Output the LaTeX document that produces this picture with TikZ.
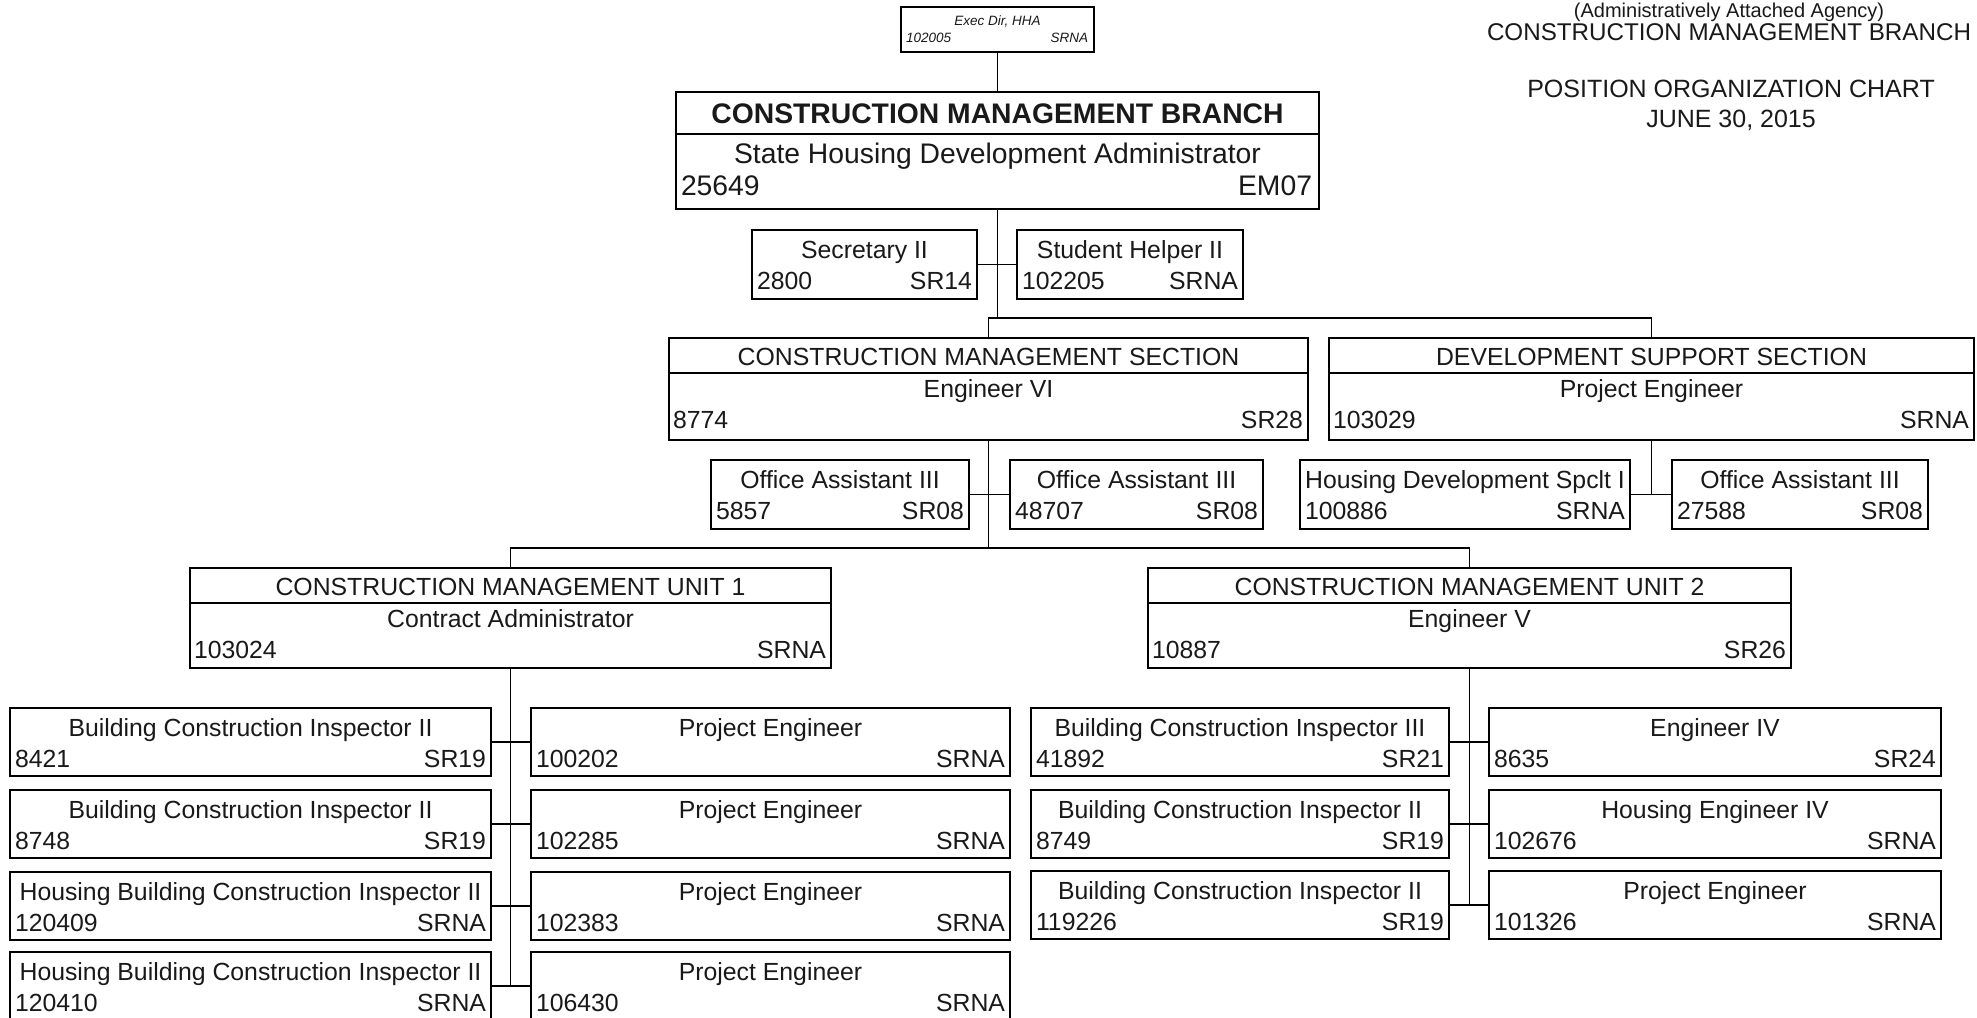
\documentclass[tikz,border=0pt]{standalone}
\usepackage{fontspec}
\setmainfont{Liberation Sans}
\usetikzlibrary{calc}
\tikzset{
  boxframe/.style={draw=black, line width=2.2pt, inner sep=0pt, outer sep=0pt, anchor=north west},
  sepline/.style={draw=black, line width=2.2pt},
  txt/.style={inner sep=0pt, outer sep=0pt, text=black!90, font=\fontsize{24.8}{28}\selectfont},
  bigtxt/.style={inner sep=0pt, outer sep=0pt, text=black!90, font=\fontsize{28.3}{32}\selectfont},
  smalltxt/.style={inner sep=0pt, outer sep=0pt, text=black!90, font=\fontsize{13.5}{15}\selectfont\itshape},
  headtxt/.style={inner sep=0pt, outer sep=0pt, text=black!90, font=\fontsize{25}{29}\selectfont},
  conn/.style={draw=black, line width=1.8pt},
}
% small position box: name, x1, y1, x2, y2, title, number, grade
\newcommand{\posbox}[8]{%
  \node[boxframe, minimum width={(#4-#2)*1pt}, minimum height={(#5-#3)*1pt}] (#1) at (#2,#3) {};
  \node[txt, anchor=base] (#1-t) at ($(#1.north)+(0,28)$) {#6};
  \node[txt, anchor=base west] (#1-n) at ($(#1.north west)+(5,59)$) {#7};
  \node[txt, anchor=base east] (#1-g) at ($(#1.north east)+(-5,59)$) {#8};
}
% section / unit box: name, x1, y1, x2, y2, heading, title, number, grade
\newcommand{\secbox}[9]{%
  \node[boxframe, minimum width={(#4-#2)*1pt}, minimum height={(#5-#3)*1pt}] (#1) at (#2,#3) {};
  \draw[sepline] ($(#1.north west)+(0,35)$) -- ($(#1.north east)+(0,35)$);
  \node[txt, anchor=base] (#1-h) at ($(#1.north)+(0,27)$) {#6};
  \node[txt, anchor=base] (#1-t) at ($(#1.north)+(0,59)$) {#7};
  \node[txt, anchor=base west] (#1-n) at ($(#1.north west)+(4,90)$) {#8};
  \node[txt, anchor=base east] (#1-g) at ($(#1.north east)+(-5,90)$) {#9};
}
\begin{document}
\begin{tikzpicture}[x=1pt,y=-1pt]
\useasboundingbox[fill=white] (0,0) rectangle (1977,1017);

% heading, top right
\node[inner sep=0pt, text=black!90, font=\fontsize{20}{24}\selectfont, anchor=base] (hd0) at (1729,17) {(Administratively Attached Agency)};
\node[headtxt, font=\fontsize{24.2}{28}\selectfont, anchor=base] (hd1) at (1729,40) {CONSTRUCTION MANAGEMENT BRANCH};
\node[headtxt, anchor=base] (hd2) at (1731,97) {POSITION ORGANIZATION CHART};
\node[headtxt, anchor=base] (hd3) at (1731,127) {JUNE 30, 2015};

% executive director
\node[boxframe, minimum width=193pt, minimum height=45pt] (exec) at (901,7) {};
\node[smalltxt, anchor=base] (exec-t) at ($(exec.north)+(0,18)$) {Exec Dir, HHA};
\node[smalltxt, anchor=base west] (exec-n) at ($(exec.north west)+(5,35)$) {102005};
\node[smalltxt, anchor=base east] (exec-g) at ($(exec.north east)+(-6,35)$) {SRNA};

% branch
\node[boxframe, minimum width=643pt, minimum height=117pt] (branch) at (676,92) {};
\draw[sepline] ($(branch.north west)+(0,42)$) -- ($(branch.north east)+(0,42)$);
\node[bigtxt, font=\fontsize{28.3}{32}\selectfont\bfseries, anchor=base] (branch-h) at ($(branch.north)+(0,31)$) {CONSTRUCTION MANAGEMENT BRANCH};
\node[bigtxt, anchor=base] (branch-t) at ($(branch.north)+(0,71)$) {State Housing Development Administrator};
\node[bigtxt, anchor=base west] (branch-n) at ($(branch.north west)+(5,103)$) {25649};
\node[bigtxt, anchor=base east] (branch-g) at ($(branch.north east)+(-7,103)$) {EM07};

% staff of branch
\posbox{sec}{752}{230}{977}{299}{Secretary II}{2800}{SR14}
\posbox{stu}{1017}{230}{1243}{299}{Student Helper II}{102205}{SRNA}

% sections
\secbox{cms}{669}{338}{1308}{440}{CONSTRUCTION MANAGEMENT SECTION}{Engineer VI}{8774}{SR28}
\secbox{dss}{1329}{338}{1974}{440}{DEVELOPMENT SUPPORT SECTION}{Project Engineer}{103029}{SRNA}

\posbox{oa1}{711}{460}{969}{529}{Office Assistant III}{5857}{SR08}
\posbox{oa2}{1010}{460}{1263}{529}{Office Assistant III}{48707}{SR08}
\posbox{hds}{1300}{460}{1630}{529}{Housing Development Spclt I}{100886}{SRNA}
\posbox{oa3}{1672}{460}{1928}{529}{Office Assistant III}{27588}{SR08}

% units
\secbox{u1}{190}{568}{831}{668}{CONSTRUCTION MANAGEMENT UNIT 1}{Contract Administrator}{103024}{SRNA}
\secbox{u2}{1148}{568}{1791}{668}{CONSTRUCTION MANAGEMENT UNIT 2}{Engineer V}{10887}{SR26}

% unit 1 staff
\posbox{a1}{10}{708}{491}{776}{Building Construction Inspector II}{8421}{SR19}
\posbox{a2}{10}{790}{491}{858}{Building Construction Inspector II}{8748}{SR19}
\posbox{a3}{10}{872}{491}{940}{Housing Building Construction Inspector II}{120409}{SRNA}
\posbox{a4}{10}{952}{491}{1020}{Housing Building Construction Inspector II}{120410}{SRNA}
\posbox{b1}{531}{708}{1010}{776}{Project Engineer}{100202}{SRNA}
\posbox{b2}{531}{790}{1010}{858}{Project Engineer}{102285}{SRNA}
\posbox{b3}{531}{872}{1010}{940}{Project Engineer}{102383}{SRNA}
\posbox{b4}{531}{952}{1010}{1020}{Project Engineer}{106430}{SRNA}

% unit 2 staff
\posbox{c1}{1031}{708}{1449}{776}{Building Construction Inspector III}{41892}{SR21}
\posbox{c2}{1031}{790}{1449}{858}{Building Construction Inspector II}{8749}{SR19}
\posbox{c3}{1031}{871}{1449}{939}{Building Construction Inspector II}{119226}{SR19}
\posbox{d1}{1489}{708}{1941}{776}{Engineer IV}{8635}{SR24}
\posbox{d2}{1489}{790}{1941}{858}{Housing Engineer IV}{102676}{SRNA}
\posbox{d3}{1489}{871}{1941}{939}{Project Engineer}{101326}{SRNA}

% connectors
\draw[conn] (exec.south) -- (branch.north);
\coordinate (j1) at ($(branch.south)+(0,109)$);
\draw[conn] (branch.south) -- (j1);
\draw[conn] (sec.east) -- (stu.west);
\draw[conn] (cms.north) -- ++(0,-20) -| (dss.north);
\draw[conn] (cms.south) -- ++(0,108);
\draw[conn] (oa1.east) -- (oa2.west);
\draw[conn] (dss.south) -- (dss.south |- hds.east);
\draw[conn] (hds.east) -- (oa3.west);
\draw[conn] (u1.north) -- ++(0,-20) -| (u2.north);
\draw[conn] (u1.south) -- (u1.south |- a4.east);
\draw[conn] (a1.east) -- (b1.west);
\draw[conn] (a2.east) -- (b2.west);
\draw[conn] (a3.east) -- (b3.west);
\draw[conn] (a4.east) -- (b4.west);
\draw[conn] (u2.south) -- (u2.south |- c3.east);
\draw[conn] (c1.east) -- (d1.west);
\draw[conn] (c2.east) -- (d2.west);
\draw[conn] (c3.east) -- (d3.west);
\end{tikzpicture}
\end{document}
